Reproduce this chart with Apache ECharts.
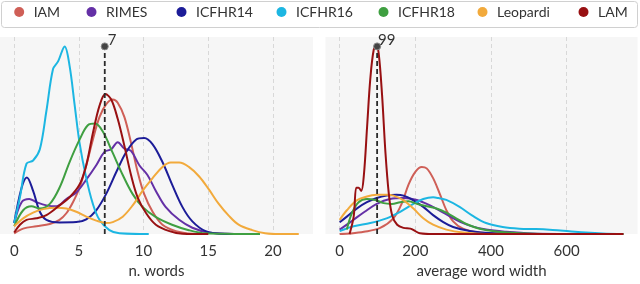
<!DOCTYPE html>
<html><head><meta charset="utf-8">
<script src="https://cdn.jsdelivr.net/npm/echarts@6/dist/echarts.min.js"></script>
<style>html,body{margin:0;padding:0;background:#fff}#c{width:640px;height:284px}</style>
</head><body><div id="c"></div>
<script>
// ---- data ----
const seriesNames = ['IAM','RIMES','ICFHR14','ICFHR16','ICFHR18','Leopardi','LAM'];
const colors = ['#cf5f57','#6430a6','#1c1c98','#1cb6e2','#3f9f41','#f2aa3c','#981012'];

// left panel: n. words (relative density)
const wordsIAM = [[0,0.003],[0.69,0.029],[1.72,0.042],[2.75,0.054],[3.5,0.076],[4.03,0.111],[4.54,0.17],[5.05,0.247],[5.57,0.367],[6.08,0.503],[6.59,0.623],[7.1,0.691],[7.62,0.717],[8.0,0.70],[8.52,0.623],[9.03,0.486],[9.54,0.332],[10.05,0.213],[10.7,0.119],[11.46,0.05],[12.5,0.016],[13.8,0.002],[15,0]];
const wordsRIMES = [[0,0.059],[0.57,0.17],[1.16,0.187],[1.72,0.17],[2.49,0.153],[3.26,0.148],[4.03,0.187],[4.8,0.222],[5.57,0.29],[6.34,0.367],[6.98,0.438],[7.5,0.452],[8.0,0.489],[8.52,0.455],[9.03,0.443],[9.67,0.367],[10.3,0.315],[10.95,0.23],[11.7,0.145],[12.75,0.076],[13.77,0.034],[15.05,0.008],[17,0.001],[19,0]];
const wordsICFHR14 = [[0,0.059],[0.57,0.247],[0.98,0.302],[1.46,0.23],[1.98,0.119],[2.49,0.076],[3.5,0.062],[4.8,0.064],[5.57,0.079],[6.34,0.127],[7.1,0.213],[7.9,0.332],[8.64,0.435],[9.41,0.503],[10.05,0.512],[10.7,0.478],[11.46,0.384],[12.2,0.265],[13.0,0.145],[13.77,0.068],[14.8,0.016],[16.3,0.001],[19,0]];
const wordsICFHR16 = [[0,0.059],[0.44,0.196],[0.95,0.375],[1.46,0.392],[1.98,0.452],[2.49,0.657],[3.0,0.879],[3.39,0.92],[3.9,1.0],[4.28,0.896],[4.67,0.689],[5.05,0.486],[5.57,0.298],[6.08,0.161],[6.59,0.076],[7.36,0.021],[8.13,0.004],[10.4,0]];
const wordsICFHR18 = [[0,0.042],[0.69,0.127],[1.33,0.148],[1.98,0.136],[2.75,0.161],[3.5,0.247],[4.28,0.384],[5.05,0.503],[5.69,0.58],[6.26,0.589],[6.85,0.546],[7.6,0.435],[8.39,0.315],[9.16,0.213],[9.92,0.145],[10.9,0.093],[12.2,0.05],[13.5,0.021],[14.8,0.004],[17,0.001],[19,0]];
const wordsLeopardi = [[0,0.042],[0.69,0.084],[1.46,0.114],[2.23,0.133],[3.26,0.14],[4.03,0.136],[4.8,0.119],[5.57,0.093],[6.34,0.072],[7.1,0.059],[7.62,0.064],[8.39,0.093],[9.16,0.153],[9.92,0.23],[10.7,0.298],[11.46,0.358],[12.1,0.381],[12.75,0.381],[13.5,0.358],[14.3,0.307],[15.05,0.238],[15.8,0.162],[16.6,0.097],[17.35,0.05],[18.4,0.021],[19.4,0.004],[20.5,0],[22,0]];
const wordsLAM = [[0,0.008],[0.44,0.05],[0.95,0.076],[1.72,0.084],[2.49,0.101],[3.5,0.153],[4.28,0.196],[5.05,0.264],[5.57,0.367],[6.08,0.537],[6.59,0.683],[7.05,0.746],[7.5,0.717],[8.0,0.614],[8.52,0.469],[9.03,0.315],[9.54,0.196],[10.2,0.111],[10.95,0.05],[12,0.016],[13,0.002],[15,0]];

// right panel: average word width (relative density)
const widthIAM = [[0,0],[28,0.003],[64,0.012],[107,0.033],[142,0.084],[164,0.162],[182,0.264],[200,0.332],[217,0.358],[230,0.35],[247,0.298],[265,0.213],[282,0.128],[300,0.068],[326,0.029],[370,0.008],[450,0.002],[750,0]];
const widthRIMES = [[0,0.024],[31,0.068],[66,0.119],[98,0.161],[133,0.187],[169,0.192],[204,0.182],[239,0.153],[274,0.114],[308,0.076],[344,0.045],[387,0.024],[440,0.012],[510,0.003],[600,0.001],[750,0]];
const widthICFHR14 = [[0,0.063],[19,0.093],[45,0.136],[72,0.17],[98,0.192],[124,0.205],[150,0.21],[169,0.205],[195,0.18],[221,0.145],[247,0.101],[274,0.064],[300,0.038],[344,0.016],[405,0.004],[500,0.001],[750,0]];
const widthICFHR16 = [[0,0.016],[37,0.042],[81,0.059],[124,0.084],[160,0.119],[195,0.161],[221,0.187],[247,0.196],[261,0.192],[282,0.182],[317,0.145],[352,0.097],[387,0.059],[431,0.038],[475,0.029],[519,0.027],[563,0.022],[607,0.015],[651,0.008],[695,0.003],[750,0]];
const widthICFHR18 = [[19,0.024],[32,0.11],[50,0.17],[72,0.187],[94,0.182],[116,0.165],[138,0.161],[160,0.17],[182,0.175],[204,0.161],[230,0.148],[256,0.136],[282,0.114],[308,0.084],[335,0.054],[370,0.029],[414,0.014],[475,0.005],[560,0.001],[750,0]];
const widthLeopardi = [[0,0.076],[19,0.127],[45,0.18],[72,0.2],[98,0.209],[124,0.21],[142,0.205],[169,0.18],[195,0.136],[221,0.084],[247,0.05],[282,0.024],[326,0.008],[387,0.001],[750,0]];
const widthLAM = [[26,0],[37,0.093],[44,0.247],[50,0.247],[57,0.23],[64,0.315],[72.5,0.572],[81,0.828],[90,0.982],[97,1.0],[103,0.965],[112,0.743],[121,0.435],[130,0.213],[138.6,0.101],[152,0.05],[169,0.033],[187,0.029],[200,0.016],[212,0.004],[247,0],[750,0]];

const leftTicks = [0,5,10,15,20];
const rightTicks = [0,200,400,600];
const leftMark = {x:7, peak:1.0, label:'7'};
const rightMark = {x:99, peak:1.0, label:'99'};
const leftName = 'n. words';
const rightName = 'average word width';

// ---- chart ----
const leftData = [wordsIAM,wordsRIMES,wordsICFHR14,wordsICFHR16,wordsICFHR18,wordsLeopardi,wordsLAM];
const rightData = [widthIAM,widthRIMES,widthICFHR14,widthICFHR16,widthICFHR18,widthLeopardi,widthLAM];
const FONT = 'Lato';
const legendX = [23.7,96,186,286,388,487,588];

function xAx(grid, min, max, ticks, name){
  return {type:'value', gridIndex:grid, min:min, max:max,
    axisLine:{show:false},
    axisTick:{show:false, customValues:ticks},
    axisLabel:{customValues:ticks, color:'#333', fontFamily:FONT, fontSize:15, margin:10},
    splitLine:{show:true, lineStyle:{color:'#d8d8d8', type:[4,3], width:1}},
    name:name, nameLocation:'middle', nameGap:33,
    nameTextStyle:{color:'#333', fontFamily:FONT, fontSize:15, verticalAlign:'middle'}};
}
function yAx(grid){
  return {type:'value', gridIndex:grid, min:0, max:1.05, show:false};
}
const series = [];
seriesNames.forEach((n,i)=>{
  series.push({name:n, type:'line', xAxisIndex:0, yAxisIndex:0, data:leftData[i], smooth:0.35,
    showSymbol:false, symbol:'none', lineStyle:{width:2, color:colors[i]}, itemStyle:{color:colors[i]}, z:2+i});
  series.push({name:n, type:'line', xAxisIndex:1, yAxisIndex:1, data:rightData[i], smooth:0.35,
    showSymbol:false, symbol:'none', lineStyle:{width:2, color:colors[i]}, itemStyle:{color:colors[i]}, z:2+i});
});
function markSeries(ax, m, dx){
  return {name:'mark'+ax, type:'line', xAxisIndex:ax, yAxisIndex:ax, z:20,
    data:[{value:[m.x,0], symbol:'none'},
          {value:[m.x,m.peak], symbol:'circle', symbolSize:7,
           label:{show:true, formatter:m.label, position:[dx,-10], color:'#333', fontFamily:FONT, fontSize:15, lineHeight:16}}],
    lineStyle:{color:'#2a2a2a', width:1.8, type:[5,3]},
    itemStyle:{color:'#444', borderColor:'#888', borderWidth:1}};
}
series.push(markSeries(0,leftMark,7));
series.push(markSeries(1,rightMark,5));

const legends = seriesNames.map((n,i)=>({
  data:[n], left:legendX[i]-9.5, top:5, padding:0, itemWidth:19, itemHeight:10, icon:'circle',
  selectedMode:false, textStyle:{color:'#333', fontFamily:FONT, fontSize:14}}));

const chart = echarts.init(document.getElementById('c'), null, {renderer:'canvas'});
chart.setOption({
  animation:false,
  graphic:[{type:'rect', shape:{x:1.5, y:1.5, width:636, height:26, r:3}, style:{fill:'#fff', stroke:'#d0d0d0', lineWidth:1}, z:-1}],
  legend:legends,
  grid:[{left:0, top:37, width:313, height:204.5, show:true, backgroundColor:'#f6f6f6', borderWidth:0},
        {left:325.5, top:37, width:312, height:204.5, show:true, backgroundColor:'#f6f6f6', borderWidth:0}],
  xAxis:[xAx(0,-1.1,23.1,leftTicks,leftName), xAx(1,-37.5,787.5,rightTicks,rightName)],
  yAxis:[yAx(0), yAx(1)],
  series:series
});
</script></body></html>
